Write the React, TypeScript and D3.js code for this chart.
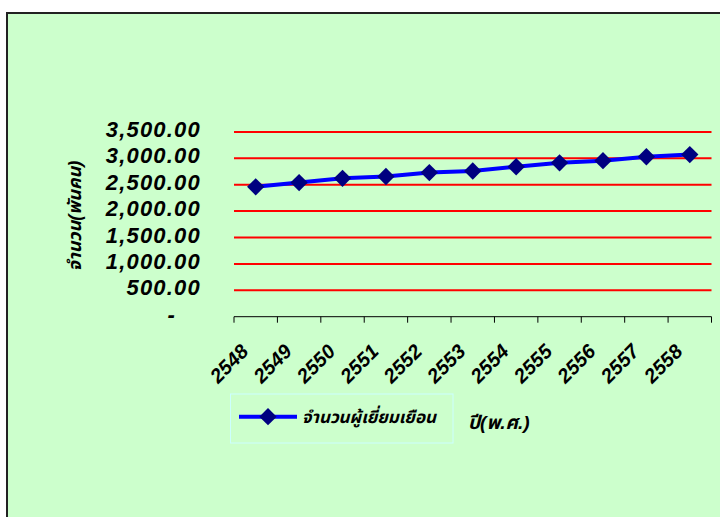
import React from 'react';
import * as d3 from 'd3';

// data
const years = ['2548', '2549', '2550', '2551', '2552', '2553', '2554', '2555', '2556', '2557', '2558'];
const visitors = [2460, 2540, 2620, 2655, 2730, 2760, 2840, 2915, 2955, 3030, 3070];
const yTicks = [0, 500, 1000, 1500, 2000, 2500, 3000, 3500];
const seriesName = 'จำนวนผู้เยี่ยมเยือน';
const yTitle = 'จำนวน(พันคน)';
const xTitle = 'ปี(พ.ศ.)';

const W = 720, H = 517;
const plot = { left: 234, right: 711.5, top: 131.9, bottom: 316.7 };
const font = '"Liberation Sans", Arial, "Noto Sans Thai", Tahoma, sans-serif';

export default function App() {
  const x = d3.scaleBand().domain(years).range([plot.left, plot.right]);
  const y = d3.scaleLinear().domain([0, 3500]).range([plot.bottom, plot.top]);
  const cx = (d: string) => (x(d) as number) + x.bandwidth() / 2;

  const line = d3.line<number>()
    .x((d, i) => cx(years[i]))
    .y(d => y(d));

  const diamond = d3.symbol().type(d3.symbolSquare).size(150)();
  const fmt = (v: number) => (v === 0 ? '-' : d3.format(',.2f')(v));

  const boundaries = [...years.map(d => x(d) as number), plot.right];

  return (
    <svg width={W} height={H} style={{ position: 'absolute', left: 0, top: 0 }} fontFamily={font}>
      <rect x={0} y={0} width={W} height={H} fill="#ffffff" />
      <rect x={7} y={13} width={W + 10} height={H + 10} fill="#ccffcc" stroke="#222" strokeWidth={2} />

      {/* gridlines */}
      {yTicks.filter(t => t > 0).map(t => (
        <line key={t} x1={plot.left} x2={plot.right} y1={y(t)} y2={y(t)} stroke="#ff0000" strokeWidth={2} />
      ))}

      {/* y tick labels */}
      {yTicks.map(t => (
        <text key={t} x={t === 0 ? 176 : 201} y={y(t) + 5} textAnchor="end" fontSize={22}
          fontWeight="bold" fontStyle="italic" letterSpacing={1.2} fill="#000">
          {fmt(t)}
        </text>
      ))}

      {/* x axis */}
      <line x1={plot.left} x2={plot.right} y1={plot.bottom} y2={plot.bottom} stroke="#000" strokeWidth={1} />
      {boundaries.map((b, i) => (
        <line key={i} x1={b} x2={b} y1={plot.bottom} y2={plot.bottom + 6} stroke="#000" strokeWidth={1} />
      ))}
      {years.map(d => (
        <text key={d} transform={`translate(${cx(d) - 6},${plot.bottom + 36}) rotate(-45)`} textAnchor="end"
          fontSize={20} fontWeight="bold" fontStyle="italic" fill="#000">
          {d}
        </text>
      ))}

      {/* series */}
      <path d={line(visitors) as string} fill="none" stroke="#0000ff" strokeWidth={4} />
      {visitors.map((v, i) => (
        <path key={i} d={diamond as string} transform={`translate(${cx(years[i])},${y(v)}) rotate(45)`} fill="#000080" />
      ))}

      {/* axis titles */}
      <text transform="translate(81,216) rotate(-90)" textAnchor="middle" fontSize={18}
        fontWeight="bold" fontStyle="italic" fill="#000">
        {yTitle}
      </text>
      <text x={468} y={429} fontSize={19} fontWeight="bold" fontStyle="italic" fill="#000">{xTitle}</text>

      {/* legend */}
      <rect x={230.5} y={394} width={222.5} height={49} fill="none" stroke="#ccffff" strokeWidth={1} />
      <line x1={239} x2={297} y1={416.7} y2={416.7} stroke="#0000ff" strokeWidth={4} />
      <path d={diamond as string} transform="translate(268,416.7) rotate(45)" fill="#000080" />
      <text x={302} y={423} fontSize={17} fontWeight="bold" fontStyle="italic" fill="#000">{seriesName}</text>
    </svg>
  );
}
